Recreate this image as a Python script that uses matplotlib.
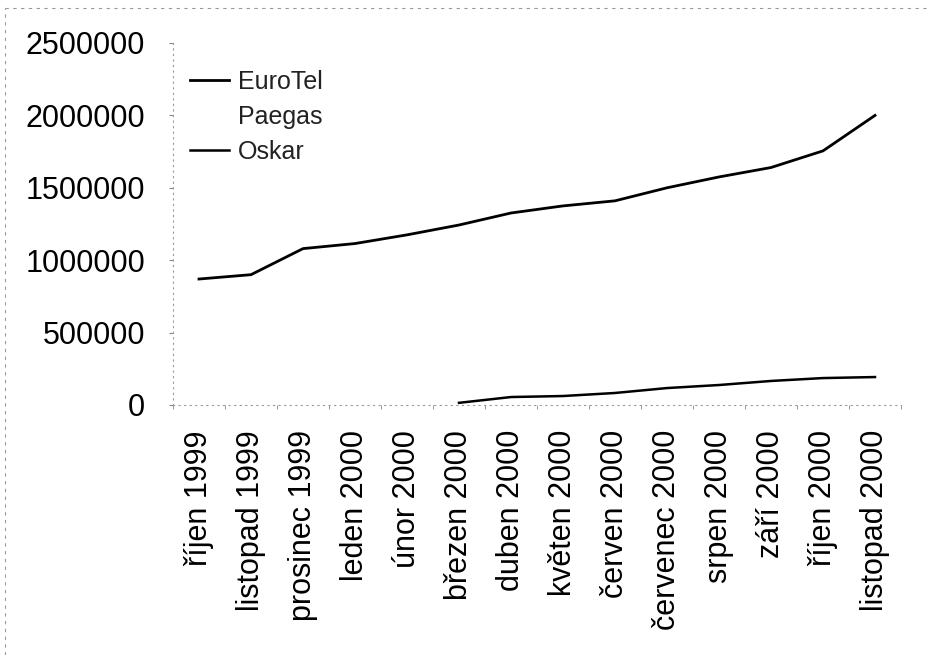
import matplotlib
matplotlib.use("Agg")
import matplotlib.pyplot as plt
import numpy as np

plt.rcParams['font.family'] = ['Liberation Sans', 'DejaVu Sans']

months = ["říjen 1999", "listopad 1999", "prosinec 1999", "leden 2000", "únor 2000",
          "březen 2000", "duben 2000", "květen 2000", "červen 2000", "červenec 2000",
          "srpen 2000", "září 2000", "říjen 2000", "listopad 2000"]
eurotel = [870000, 900000, 1080000, 1115000, 1175000, 1243000, 1326000, 1375000,
           1410000, 1500000, 1575000, 1640000, 1755000, 2000000]
paegas = [np.nan] * 14
oskar = [np.nan, np.nan, np.nan, np.nan, np.nan, 15000, 55000, 62000, 83000,
         117000, 138000, 166000, 186000, 193000]
yticks = [0, 500000, 1000000, 1500000, 2000000, 2500000]

fig = plt.figure(figsize=(9.28, 6.55), dpi=100)
ax = fig.add_axes([173/928, 1-405/655, (901-173)/928, (405-43)/655])
x = np.arange(len(months))
ax.plot(x, eurotel, color='black', lw=2.0, label='EuroTel')
ax.plot(x, paegas, color='white', lw=2.0, label='Paegas')
ax.plot(x, oskar, color='black', lw=1.8, label='Oskar')

ax.set_xlim(-0.5, len(months) - 0.5)
ax.set_ylim(0, 2500000)
ax.set_yticks(yticks)
ax.set_yticklabels([str(v) for v in yticks], fontsize=22)
ax.set_xticks(x)
ax.set_xticklabels(months, rotation=90, fontsize=22)
ax.set_xticks(np.arange(-0.5, len(months)), minor=True)
ax.tick_params(axis='x', which='major', length=0, pad=18)
ax.tick_params(axis='x', which='minor', length=3, color='#888888')
ax.tick_params(axis='y', length=3, color='#888888', pad=17)
for s in ['top', 'right']:
    ax.spines[s].set_visible(False)
for s in ['left', 'bottom']:
    ax.spines[s].set_linestyle((0, (1, 4)))
    ax.spines[s].set_color('#999999')
    ax.spines[s].set_linewidth(0.8)

leg = ax.legend(loc='upper left', bbox_to_anchor=(0.0, 0.975), frameon=False,
                fontsize=18, handlelength=1.55, handletextpad=0.35, labelspacing=0.45,
                borderaxespad=0.3)
for t in leg.get_texts():
    t.set_color('#222222')

# faint scan-like frame on top and left
fig.add_artist(plt.Line2D([5/928, 5/928], [0, 1-8/655], transform=fig.transFigure,
                          color='#999999', lw=0.8, ls=(0, (3, 4))))
fig.add_artist(plt.Line2D([5/928, 1], [1-8/655, 1-8/655], transform=fig.transFigure,
                          color='#999999', lw=0.8, ls=(0, (3, 4))))

fig.savefig('out.png', dpi=100)
